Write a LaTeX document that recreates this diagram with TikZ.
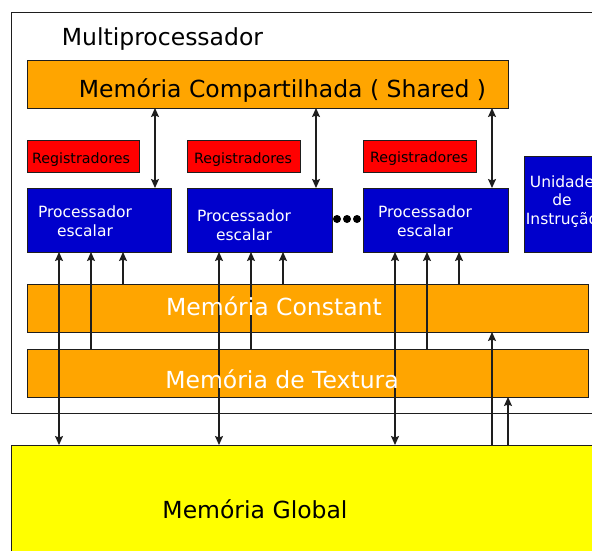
\documentclass[tikz,border=0pt]{standalone}
\usepackage{fontspec}
\setmainfont{DejaVu Sans}
\usetikzlibrary{arrows.meta}
\definecolor{orng}{RGB}{255,165,0}
\definecolor{blu}{RGB}{0,0,204}
\definecolor{rd}{RGB}{255,0,0}
\definecolor{yel}{RGB}{255,255,0}
\definecolor{edge}{RGB}{30,30,30}
\begin{document}
\begin{tikzpicture}[x=1pt,y=-1pt,
  box/.style={draw=edge, line width=1pt, rectangle, anchor=north west, inner sep=0pt, outer sep=0pt},
  big/.style={font=\fontsize{23.5}{28}\selectfont, anchor=base, inner sep=0pt},
  small/.style={font=\fontsize{15.5}{19}\selectfont, anchor=base, inner sep=0pt, align=center},
  reg/.style={font=\fontsize{14.2}{17}\selectfont, anchor=base, inner sep=0pt},
  conn/.style={draw=edge, line width=1.2pt},
  tip/.tip={Stealth[length=9pt,width=8pt,inset=1.5pt]},
  dbl/.style={conn, tip-tip},
  up/.style={conn, -tip},
  dotn/.style={circle, fill=black, minimum size=8pt, inner sep=0pt}]
\useasboundingbox (0,0) rectangle (592,550);
\fill[white] (0,0) rectangle (592,550);
\clip (0,0) rectangle (592,550);

% containers
\node[box, minimum width=600pt, minimum height=401pt] (frame) at (11,12) {};
\node[box, fill=yel, minimum width=600pt, minimum height=120pt] (glob) at (11,445) {};

% boxes
\node[box, fill=orng, minimum width=481pt, minimum height=48pt] (shared) at (27,60) {};
\node[box, fill=rd, minimum width=112pt, minimum height=32pt] (r1) at (27,140) {};
\node[box, fill=rd, minimum width=113pt, minimum height=32pt] (r2) at (187,140) {};
\node[box, fill=rd, minimum width=113pt, minimum height=32pt] (r3) at (363,140) {};
\node[box, fill=blu, minimum width=144pt, minimum height=64pt] (p1) at (27,188) {};
\node[box, fill=blu, minimum width=145pt, minimum height=64pt] (p2) at (187,188) {};
\node[box, fill=blu, minimum width=145pt, minimum height=64pt] (p3) at (363,188) {};
\node[box, fill=blu, minimum width=100pt, minimum height=96pt] (unid) at (524,156) {};
\node[box, fill=orng, minimum width=561pt, minimum height=48pt] (const) at (27,284) {};
\node[box, fill=orng, minimum width=561pt, minimum height=48pt] (tex) at (27,349) {};

% dots
\node[dotn] (d1) at (337,219) {};
\node[dotn] (d2) at (347,219) {};
\node[dotn] (d3) at (357,219) {};

% connectors
\foreach \p in {p1,p2,p3}{
  \coordinate (\p top) at ([xshift=-16pt]\p.north east);
  \coordinate (\p a) at ([xshift=32pt]\p.south west);
  \coordinate (\p b) at ([xshift=64pt]\p.south west);
  \coordinate (\p c) at ([xshift=96pt]\p.south west);
  \draw[dbl] (\p top) -- (\p top |- shared.south);
  \draw[dbl] (\p a) -- (\p a |- glob.north);
  \draw[up] (\p b |- tex.north) -- (\p b);
  \draw[up] (\p c |- const.north) -- (\p c);
}
\coordinate (gc) at (492,445);
\coordinate (gt) at (508,445);
\draw[up] (gc) -- (gc |- const.south);
\draw[up] (gt) -- (gt |- tex.south);

% texts
\node[big] (ttitle) at (162.5,45) {Multiprocessador};
\node[big] (tshared) at (282.5,97) {Memória Compartilhada ( Shared )};
\node[reg] (tr1) at (81,163) {Registradores};
\node[reg] (tr2) at (243,163) {Registradores};
\node[reg] (tr3) at (419,162) {Registradores};
\node[small, text=white] (tp1) at (85,236) {Processador\\escalar};
\node[small, text=white] (tp2) at (244,240) {Processador\\escalar};
\node[small, text=white] (tp3) at (425,236) {Processador\\escalar};
\node[small, text=white, font=\fontsize{15.5}{18.5}\selectfont] (tunid) at (562,224) {Unidade\\de\\Instrução};
\node[big, text=white] (tconst) at (274,315) {Memória Constant};
\node[big, text=white] (ttex) at (282,388) {Memória de Textura};
\node[big] (tglob) at (255,518) {Memória Global};
\end{tikzpicture}
\end{document}
